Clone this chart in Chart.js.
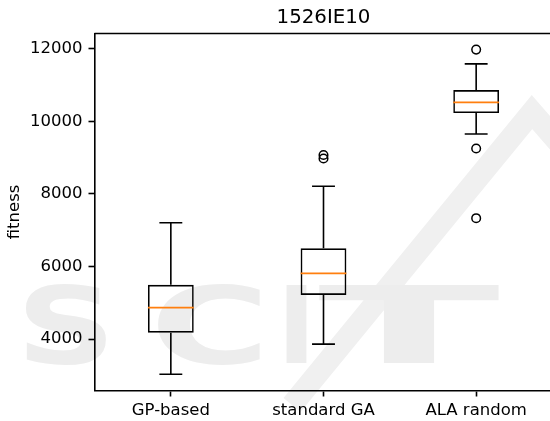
<!DOCTYPE html>
<html>
<head>
<meta charset="utf-8">
<script src="https://cdn.jsdelivr.net/npm/chart.js@4/dist/chart.umd.min.js"></script>
<style>
  html, body { margin: 0; padding: 0; overflow: hidden; background: #fff; }
  #wrap { position: absolute; left: 0; top: 0; width: 560px; height: 421px; }
</style>
</head>
<body>
<div id="wrap"><canvas id="boxChart" width="560" height="421"></canvas></div>
<script>
// box plot values
const labels = ['GP-based', 'standard GA', 'ALA random'];
const whiskerLow = [3030, 3860, 9650];
const q1 = [4175, 5215, 10225];
const median = [4865, 5810, 10520];
const q3 = [5495, 6500, 10860];
const whiskerHigh = [7205, 8210, 11580];
const outliers = [[], [9070, 8975], [11975, 9250, 7330]];
const yTicks = [4000, 6000, 8000, 10000, 12000];

const FONT = 'DejaVu Sans';
const LW = 1.6;

// faint publisher watermark behind the plot
const watermark = {
    id: 'watermark',
    beforeDraw(chart) {
        const c = chart.ctx;
        c.save();
        c.fillStyle = '#fff';
        c.fillRect(0, 0, chart.width, chart.height);
        c.strokeStyle = '#f0f0f0';
        c.lineWidth = 22;
        c.beginPath();
        c.moveTo(292, 405);
        c.lineTo(532, 112);
        c.lineTo(565, 150);
        c.stroke();
        c.fillStyle = '#ededed';
        c.font = 'bold 107px "' + FONT + '"';
        c.textBaseline = 'alphabetic';
        const letters = [['S', 16, 100], ['C', 150, 120], ['I', 277, 39], ['T', 318, 182], ['E', 539, 110]];
        letters.forEach(([ch, x, w]) => {
            const mw = c.measureText(ch).width;
            c.save();
            c.translate(x, 363);
            c.scale(w / mw, 1);
            c.fillText(ch, 0, 0);
            c.restore();
        });
        c.restore();
    }
};

// whiskers, caps, medians and top spine, placed with the chart scales
const boxExtras = {
    id: 'boxExtras',
    afterDatasetsDraw(chart) {
        const c = chart.ctx;
        const x = chart.scales.x;
        const y = chart.scales.y;
        const catW = x.width / labels.length;
        c.save();
        c.lineWidth = LW;
        labels.forEach((lab, i) => {
            const cx = x.getPixelForValue(i);
            const half = catW * 0.15;
            const capHalf = catW * 0.075;
            c.strokeStyle = '#000';
            c.beginPath();
            c.moveTo(cx, y.getPixelForValue(q1[i]));
            c.lineTo(cx, y.getPixelForValue(whiskerLow[i]));
            c.moveTo(cx, y.getPixelForValue(q3[i]));
            c.lineTo(cx, y.getPixelForValue(whiskerHigh[i]));
            c.moveTo(cx - capHalf, y.getPixelForValue(whiskerLow[i]));
            c.lineTo(cx + capHalf, y.getPixelForValue(whiskerLow[i]));
            c.moveTo(cx - capHalf, y.getPixelForValue(whiskerHigh[i]));
            c.lineTo(cx + capHalf, y.getPixelForValue(whiskerHigh[i]));
            c.stroke();
            c.strokeStyle = '#ff7f0e';
            c.beginPath();
            c.moveTo(cx - half, y.getPixelForValue(median[i]));
            c.lineTo(cx + half, y.getPixelForValue(median[i]));
            c.stroke();
        });
        const a = chart.chartArea;
        c.strokeStyle = '#000';
        c.beginPath();
        c.moveTo(a.left, a.top);
        c.lineTo(a.right + 5, a.top);
        c.stroke();
        c.restore();
    }
};

const outlierPoints = [];
outliers.forEach((vals, i) => vals.forEach(v => outlierPoints.push({ x: labels[i], y: v })));

const ctx = document.getElementById('boxChart').getContext('2d');
new Chart(ctx, {
    type: 'bar',
    data: {
        labels: labels,
        datasets: [
            {
                label: 'box',
                data: labels.map((l, i) => [q1[i], q3[i]]),
                backgroundColor: 'rgba(255,255,255,0)',
                borderColor: '#000',
                borderWidth: LW,
                borderSkipped: false,
                categoryPercentage: 1,
                barPercentage: 0.3,
            },
            {
                type: 'line',
                label: 'outliers',
                data: outlierPoints,
                showLine: false,
                pointRadius: 4.3,
                pointBorderWidth: 1.5,
                pointBorderColor: '#000',
                pointBackgroundColor: 'rgba(0,0,0,0)',
            },
        ],
    },
    options: {
        responsive: false,
        animation: false,
        devicePixelRatio: 1,
        layout: { padding: { left: 0, right: 7.5, top: 0, bottom: 0 } },
        plugins: {
            legend: { display: false },
            tooltip: { enabled: false },
            title: {
                display: true,
                text: '1526IE10',
                fullSize: false,
                color: '#000',
                font: { family: FONT, size: 19.8, weight: 'normal' },
                padding: { top: 5.6, bottom: 4.1 },
            },
        },
        scales: {
            x: {
                grid: { offset: false, drawOnChartArea: false, tickLength: 6, tickColor: '#000', tickWidth: LW },
                border: { color: '#000', width: LW },
                ticks: { color: '#000', padding: 4, font: { family: FONT, size: 16.5 } },
                afterFit(scale) { scale.height = 30.5; },
            },
            y: {
                min: 2583,
                max: 12419,
                afterBuildTicks(scale) { scale.ticks = yTicks.map(v => ({ value: v })); },
                grid: { drawOnChartArea: false, tickLength: 6, tickColor: '#000', tickWidth: LW },
                border: { color: '#000', width: LW },
                ticks: {
                    color: '#000',
                    padding: 6,
                    font: { family: FONT, size: 16.5 },
                    callback: v => String(v),
                },
                title: {
                    display: true,
                    text: 'fitness',
                    color: '#000',
                    font: { family: FONT, size: 16.5 },
                    padding: { top: 5, bottom: 0 },
                },
                afterFit(scale) { scale.width = 94.5; },
            },
        },
    },
    plugins: [watermark, boxExtras],
});
</script>
</body>
</html>
